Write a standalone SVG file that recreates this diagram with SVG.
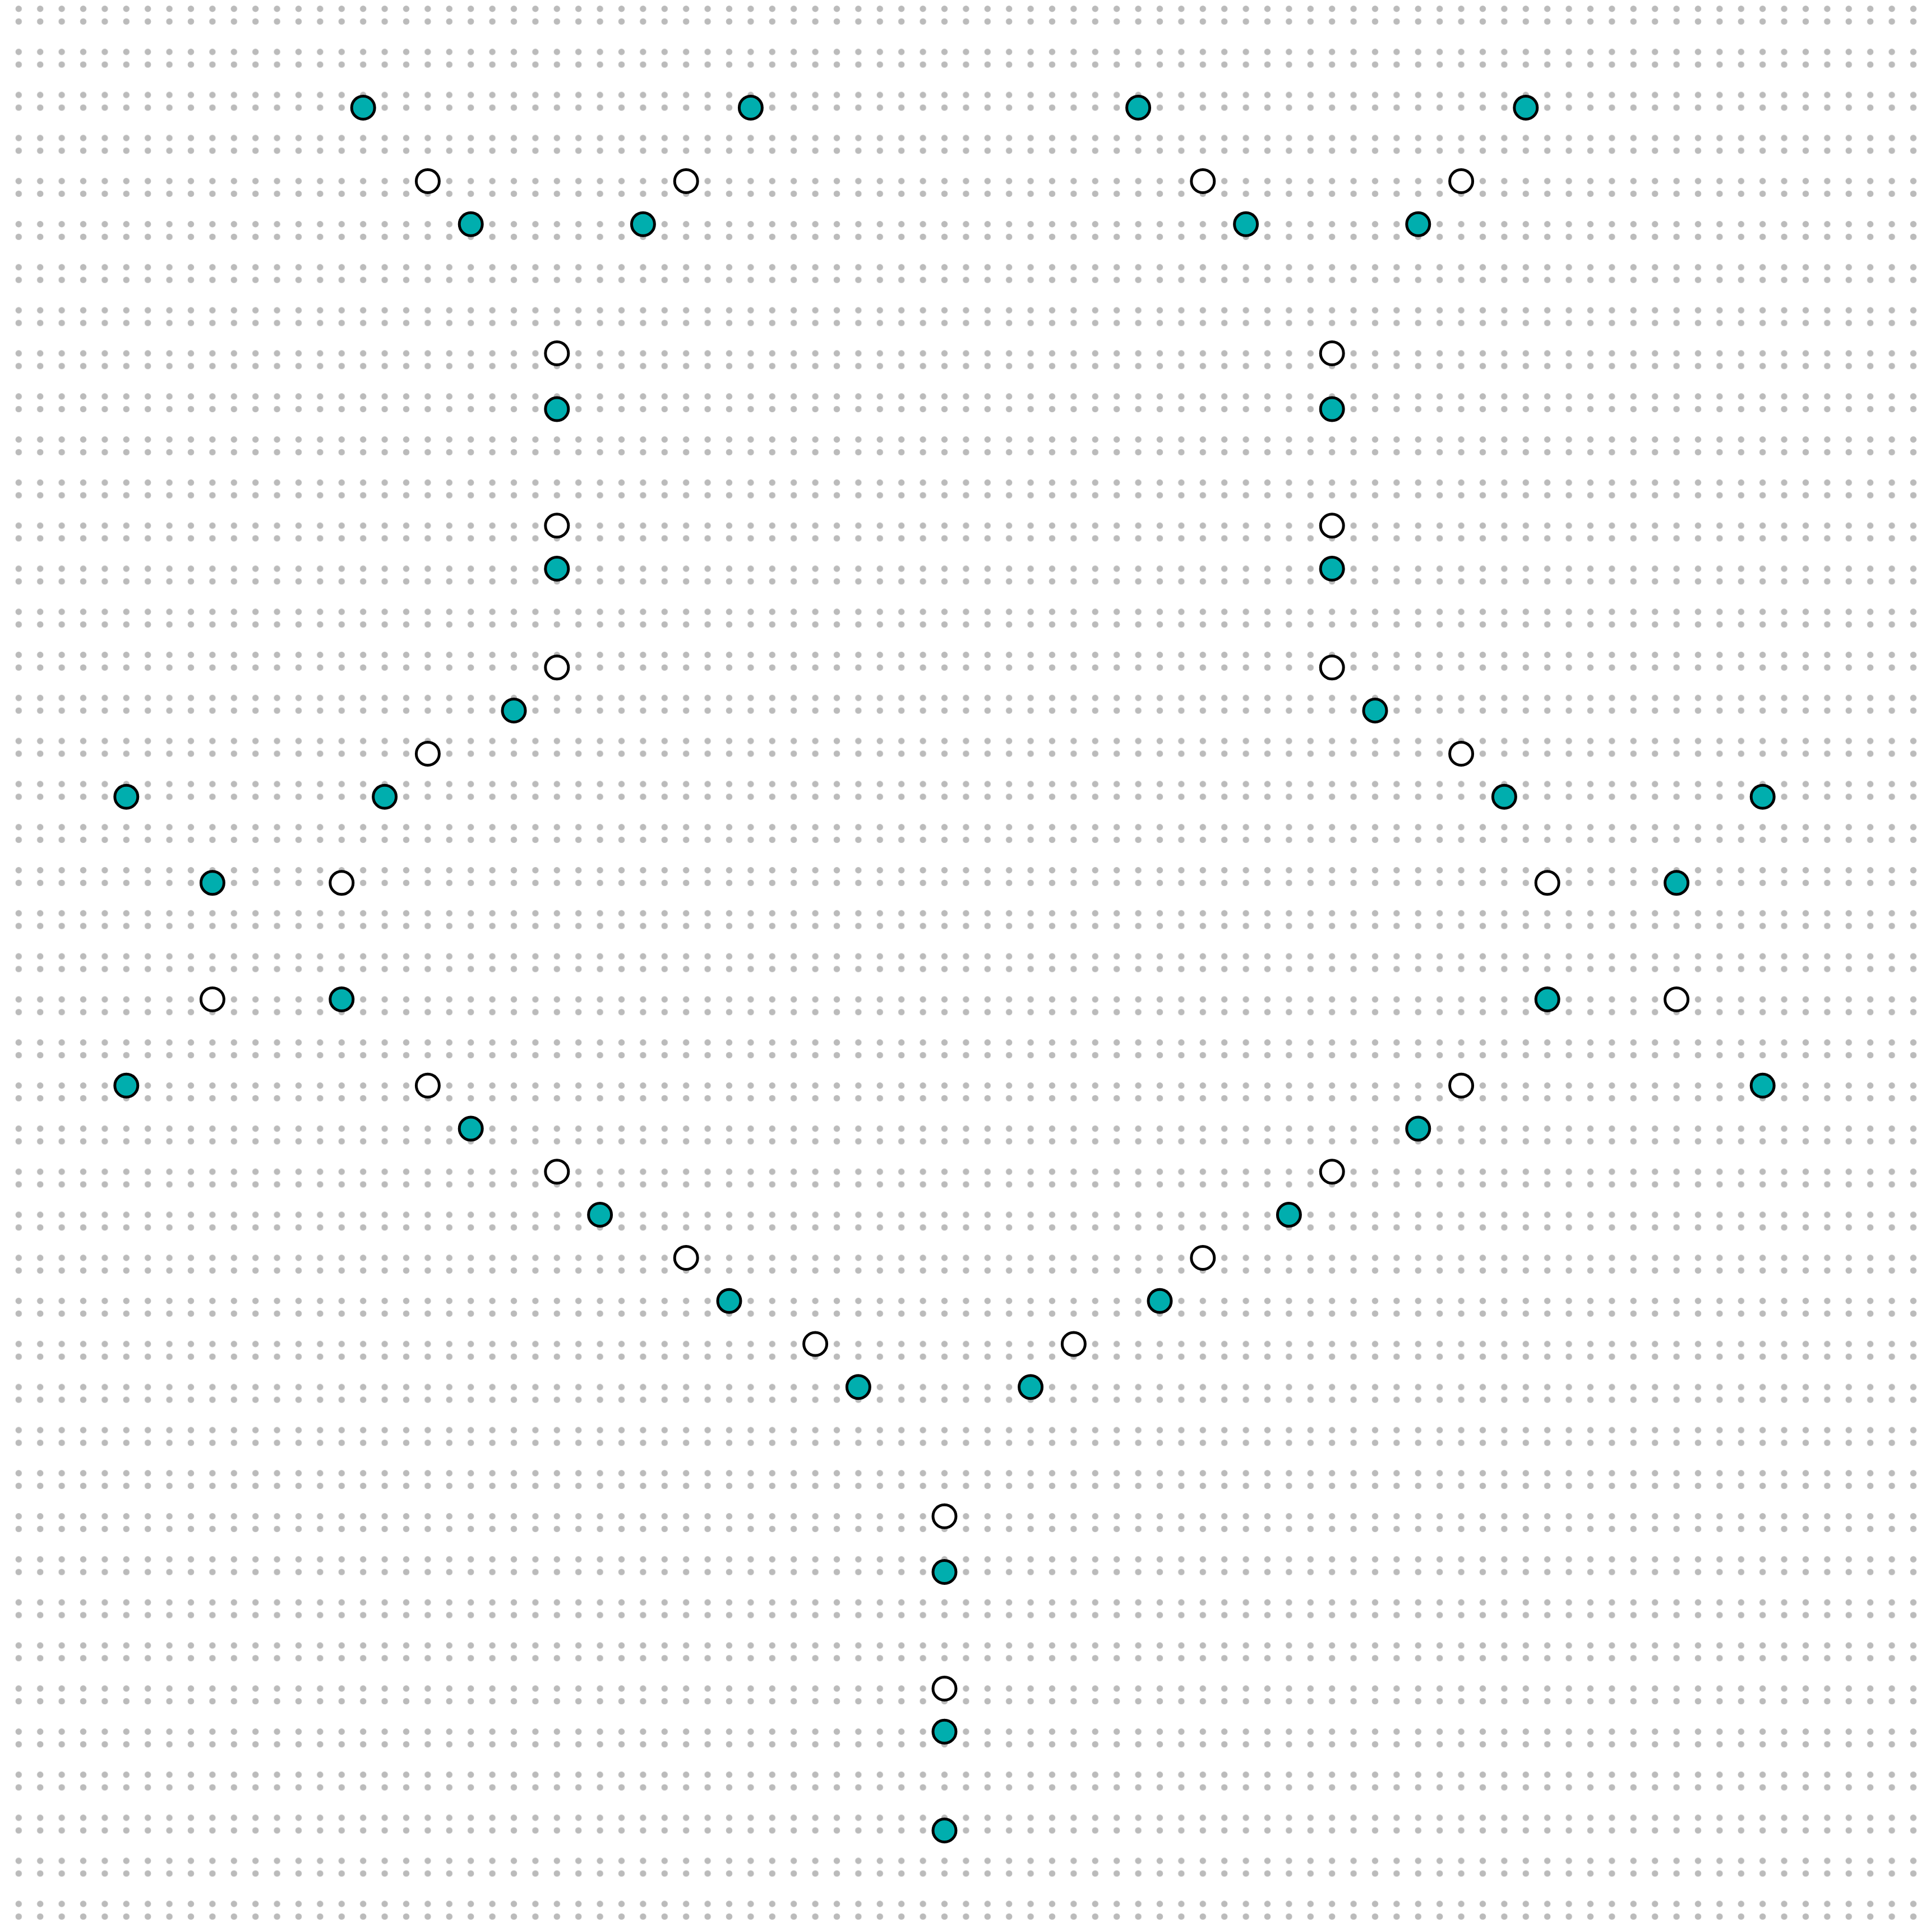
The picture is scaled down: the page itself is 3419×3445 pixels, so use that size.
<svg xmlns="http://www.w3.org/2000/svg" width="3419" height="3445" viewBox="0 0 3419 3445">
<style>
.t{fill:#00aeae;stroke:#000;stroke-width:5}
.w{fill:#fff;stroke:#000;stroke-width:5}
</style>
<defs>
<pattern id="grid" patternUnits="userSpaceOnUse" x="14.1" y="0" width="38.4" height="76.8">
<circle cx="19.2" cy="15.7" r="5.7" fill="#bbbbbb"/>
<circle cx="19.2" cy="38.3" r="5.7" fill="#bbbbbb"/>
</pattern>
</defs>
<rect width="3419" height="3445" fill="#fff"/>
<rect x="14.1" y="0" width="3405" height="3445" fill="url(#grid)"/>
<g id="nodes">
<g id="n1"><circle class="t" cx="647.7" cy="191.9" r="20.5"/></g>
<g id="n2"><circle class="t" cx="1338.9" cy="191.9" r="20.5"/></g>
<g id="n3"><circle class="t" cx="2030.1" cy="191.9" r="20.5"/></g>
<g id="n4"><circle class="t" cx="2721.3" cy="191.9" r="20.5"/></g>
<g id="n5"><circle class="w" cx="762.9" cy="322.9" r="20.5"/></g>
<g id="n6"><circle class="w" cx="1223.7" cy="322.9" r="20.5"/></g>
<g id="n7"><circle class="w" cx="2145.3" cy="322.9" r="20.5"/></g>
<g id="n8"><circle class="w" cx="2606.1" cy="322.9" r="20.5"/></g>
<g id="n9"><circle class="t" cx="839.7" cy="399.7" r="20.5"/></g>
<g id="n10"><circle class="t" cx="1146.9" cy="399.7" r="20.5"/></g>
<g id="n11"><circle class="t" cx="2222.1" cy="399.7" r="20.5"/></g>
<g id="n12"><circle class="t" cx="2529.3" cy="399.7" r="20.5"/></g>
<g id="n13"><circle class="w" cx="993.3" cy="630.1" r="20.5"/></g>
<g id="n14"><circle class="w" cx="2375.7" cy="630.1" r="20.5"/></g>
<g id="n15"><circle class="t" cx="993.3" cy="729.5" r="20.5"/></g>
<g id="n16"><circle class="t" cx="2375.7" cy="729.5" r="20.5"/></g>
<g id="n17"><circle class="w" cx="993.3" cy="937.3" r="20.5"/></g>
<g id="n18"><circle class="w" cx="2375.7" cy="937.3" r="20.5"/></g>
<g id="n19"><circle class="t" cx="993.3" cy="1014.1" r="20.5"/></g>
<g id="n20"><circle class="t" cx="2375.7" cy="1014.1" r="20.5"/></g>
<g id="n21"><circle class="w" cx="993.3" cy="1190.3" r="20.5"/></g>
<g id="n22"><circle class="w" cx="2375.7" cy="1190.3" r="20.5"/></g>
<g id="n23"><circle class="t" cx="916.5" cy="1267.1" r="20.5"/></g>
<g id="n24"><circle class="t" cx="2452.5" cy="1267.1" r="20.5"/></g>
<g id="n25"><circle class="w" cx="762.9" cy="1343.9" r="20.5"/></g>
<g id="n26"><circle class="w" cx="2606.1" cy="1343.9" r="20.5"/></g>
<g id="n27"><circle class="t" cx="225.3" cy="1420.7" r="20.5"/></g>
<g id="n28"><circle class="t" cx="686.1" cy="1420.7" r="20.5"/></g>
<g id="n29"><circle class="t" cx="2682.9" cy="1420.7" r="20.5"/></g>
<g id="n30"><circle class="t" cx="3143.7" cy="1420.7" r="20.5"/></g>
<g id="n31"><circle class="t" cx="378.9" cy="1574.3" r="20.5"/></g>
<g id="n32"><circle class="w" cx="609.3" cy="1574.3" r="20.5"/></g>
<g id="n33"><circle class="w" cx="2759.7" cy="1574.3" r="20.5"/></g>
<g id="n34"><circle class="t" cx="2990.1" cy="1574.3" r="20.5"/></g>
<g id="n35"><circle class="w" cx="378.9" cy="1782.1" r="20.5"/></g>
<g id="n36"><circle class="t" cx="609.3" cy="1782.1" r="20.5"/></g>
<g id="n37"><circle class="t" cx="2759.7" cy="1782.1" r="20.5"/></g>
<g id="n38"><circle class="w" cx="2990.1" cy="1782.1" r="20.5"/></g>
<g id="n39"><circle class="t" cx="225.3" cy="1935.7" r="20.5"/></g>
<g id="n40"><circle class="w" cx="762.9" cy="1935.7" r="20.5"/></g>
<g id="n41"><circle class="w" cx="2606.1" cy="1935.7" r="20.5"/></g>
<g id="n42"><circle class="t" cx="3143.7" cy="1935.7" r="20.5"/></g>
<g id="n43"><circle class="t" cx="839.7" cy="2012.5" r="20.5"/></g>
<g id="n44"><circle class="t" cx="2529.3" cy="2012.5" r="20.5"/></g>
<g id="n45"><circle class="w" cx="993.3" cy="2089.3" r="20.5"/></g>
<g id="n46"><circle class="w" cx="2375.7" cy="2089.3" r="20.5"/></g>
<g id="n47"><circle class="t" cx="1070.1" cy="2166.1" r="20.5"/></g>
<g id="n48"><circle class="t" cx="2298.9" cy="2166.1" r="20.5"/></g>
<g id="n49"><circle class="w" cx="1223.7" cy="2242.9" r="20.5"/></g>
<g id="n50"><circle class="w" cx="2145.3" cy="2242.9" r="20.5"/></g>
<g id="n51"><circle class="t" cx="1300.5" cy="2319.7" r="20.5"/></g>
<g id="n52"><circle class="t" cx="2068.5" cy="2319.7" r="20.5"/></g>
<g id="n53"><circle class="w" cx="1454.1" cy="2396.5" r="20.5"/></g>
<g id="n54"><circle class="w" cx="1914.9" cy="2396.5" r="20.5"/></g>
<g id="n55"><circle class="t" cx="1530.9" cy="2473.3" r="20.5"/></g>
<g id="n56"><circle class="t" cx="1838.1" cy="2473.3" r="20.5"/></g>
<g id="n57"><circle class="w" cx="1684.5" cy="2703.7" r="20.5"/></g>
<g id="n58"><circle class="t" cx="1684.5" cy="2803.1" r="20.5"/></g>
<g id="n59"><circle class="w" cx="1684.5" cy="3010.9" r="20.5"/></g>
<g id="n60"><circle class="t" cx="1684.5" cy="3087.7" r="20.5"/></g>
<g id="n61"><circle class="t" cx="1684.5" cy="3263.9" r="20.5"/></g>
</g>
</svg>
